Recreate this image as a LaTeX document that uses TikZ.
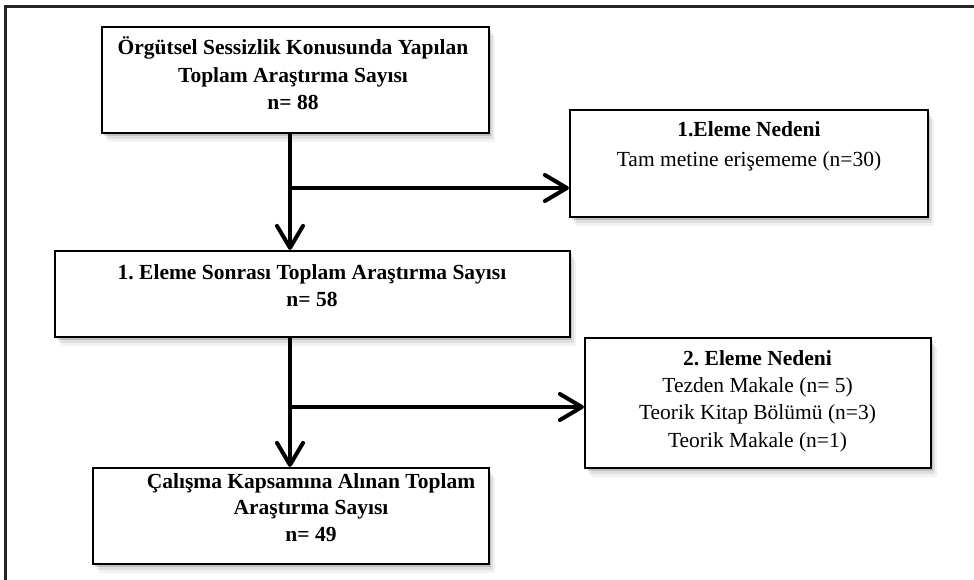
\documentclass[tikz,border=0pt]{standalone}
\usepackage{fontspec}
\setmainfont{Liberation Serif}
\frenchspacing
\usetikzlibrary{arrows.meta,shadows}
\begin{document}
\begin{tikzpicture}[x=1pt,y=-1pt,
  softshadow/.style={
    drop shadow={shadow xshift=2pt,shadow yshift=-3pt,opacity=.14,fill=black},
    drop shadow={shadow xshift=4pt,shadow yshift=-6pt,opacity=.08,fill=black},
    drop shadow={shadow xshift=6pt,shadow yshift=-9pt,opacity=.05,fill=black}},
  box/.style={rectangle,draw=black,line width=2.2pt,fill=white,inner sep=0pt,softshadow},
  lbl/.style={anchor=base,inner sep=0pt,font=\fontsize{21.5}{27}\selectfont\frenchspacing},
  lblb/.style={anchor=base,inner sep=0pt,font=\fontsize{21.5}{27}\selectfont\bfseries\frenchspacing},
  arr/.style={line width=4pt,-{Straight Barb[length=22pt,width=26pt,round]}},
  frameline/.style={line width=3.5pt,draw=black!85}]
\useasboundingbox (0,0) rectangle (974,580);
% outer frame (top and left edges only)
\draw[frameline] (5.5,580) -- (5.5,6.5) -- (974,6.5);
% boxes
\node[box,minimum width=387pt,minimum height=106pt] (A) at (295.5,80) {};
\node[box,minimum width=358pt,minimum height=107pt] (B) at (749,163.5) {};
\node[box,minimum width=515pt,minimum height=86pt] (C) at (312.5,294) {};
\node[box,minimum width=346pt,minimum height=130pt] (D) at (758,403) {};
\node[box,minimum width=396pt,minimum height=96pt] (E) at (291,516) {};
% texts
\node[lblb] (a1) at (293,55) {Örgütsel Sessizlik Konusunda Yapılan};
\node[lblb] (a2) at (293,82.5) {Toplam Araştırma Sayısı};
\node[lblb] (a3) at (293,110) {n= 88};
\node[lblb] (b1) at (749,137) {1.Eleme Nedeni};
\node[lbl] (b2) at (749,167) {Tam metine erişememe (n=30)};
\node[lblb] (c1) at (312,279) {1. Eleme Sonrası Toplam Araştırma Sayısı};
\node[lblb] (c2) at (312,306) {n= 58};
\node[lblb] (d1) at (757.5,365) {2. Eleme Nedeni};
\node[lbl] (d2) at (757.5,392) {Tezden Makale (n= 5)};
\node[lbl] (d3) at (757.5,419.5) {Teorik Kitap Bölümü (n=3)};
\node[lbl] (d4) at (757.5,447) {Teorik Makale (n=1)};
\node[lblb] (e1) at (311,488) {Çalışma Kapsamına Alınan Toplam};
\node[lblb] (e2) at (311,514) {Araştırma Sayısı};
\node[lblb] (e3) at (311,541) {n= 49};
% connectors
\coordinate (j1) at (290,188);
\coordinate (j2) at (290,407);
\draw[arr] (A.south -| j1) -- (C.north -| j1);
\draw[arr] (j1) -- (B.west |- j1);
\draw[arr] (C.south -| j2) -- (E.north -| j2);
\draw[arr] (j2) -- (D.west |- j2);
\end{tikzpicture}
\end{document}
